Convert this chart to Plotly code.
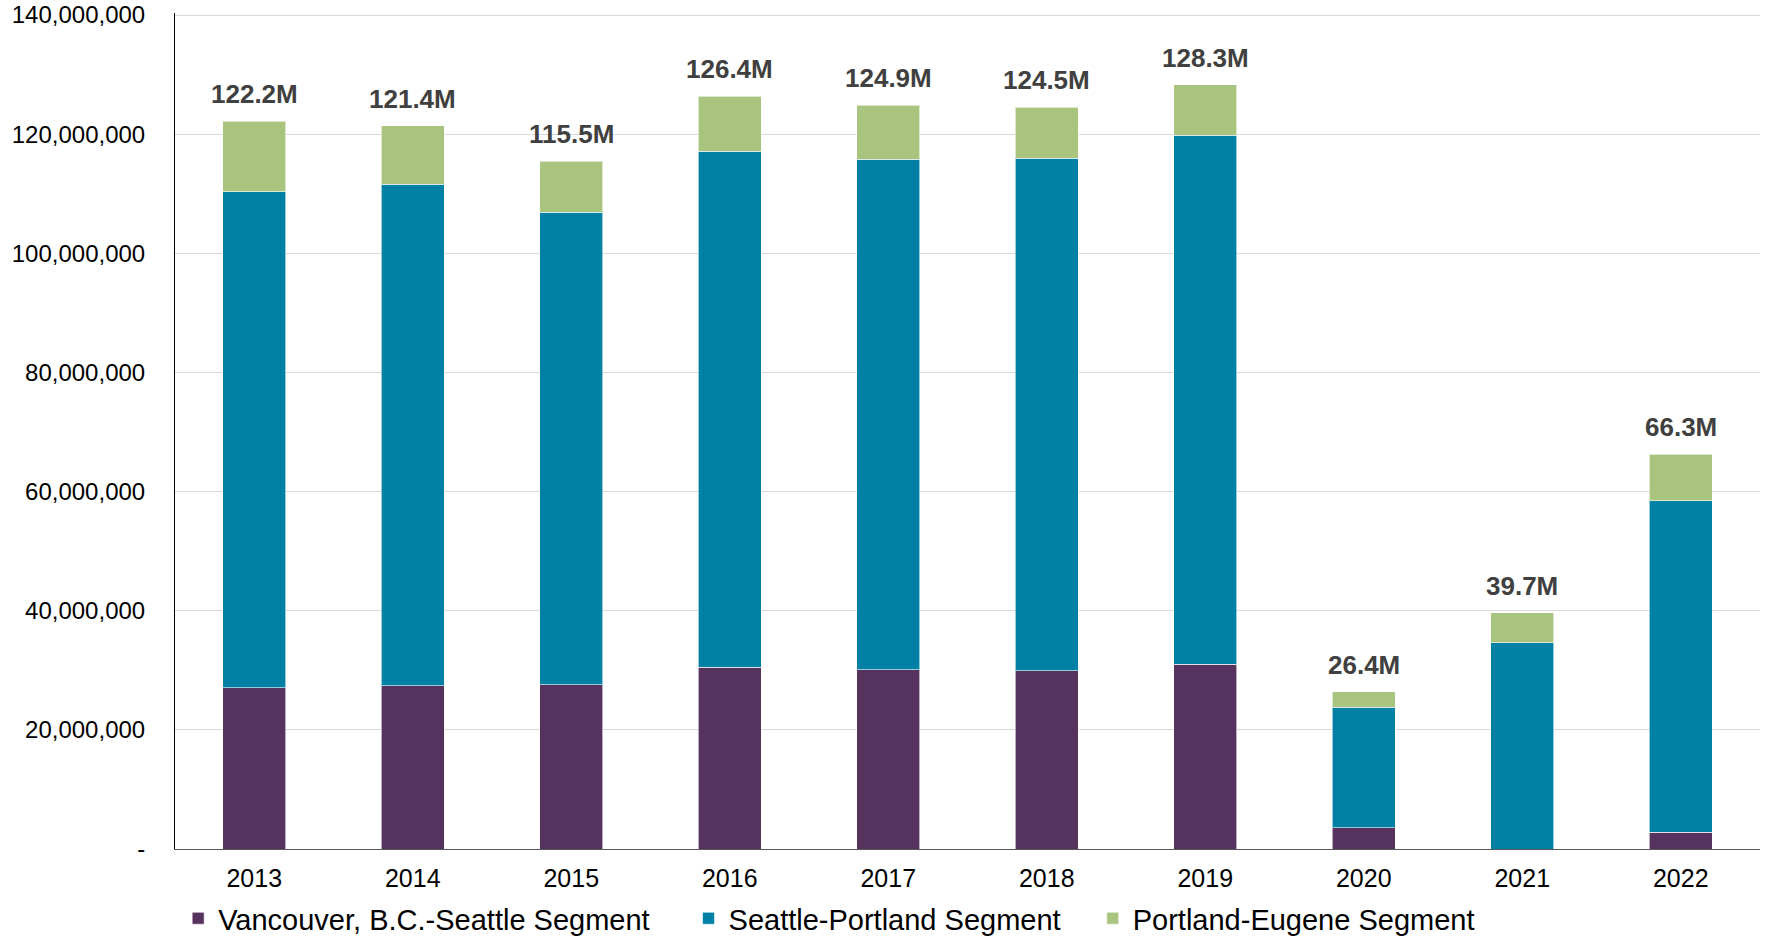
import plotly.graph_objects as go

years = ["2013", "2014", "2015", "2016", "2017", "2018", "2019", "2020", "2021", "2022"]
vancouver_seattle = [27050000, 27400000, 27600000, 30500000, 30100000, 29900000, 31000000, 3600000, 0, 2800000]
seattle_portland = [83250000, 84200000, 79300000, 86600000, 85700000, 86100000, 88800000, 20200000, 34600000, 55700000]
portland_eugene = [11900000, 9800000, 8600000, 9300000, 9100000, 8500000, 8500000, 2600000, 5100000, 7800000]
y_ticks = [0, 20000000, 40000000, 60000000, 80000000, 100000000, 120000000, 140000000]
y_tick_labels = ["-", "20,000,000", "40,000,000", "60,000,000", "80,000,000", "100,000,000", "120,000,000", "140,000,000"]

totals = [a + b + c for a, b, c in zip(vancouver_seattle, seattle_portland, portland_eugene)]
total_labels = [f"{t/1e6:.1f}M" for t in totals]

FONT = "Liberation Sans, Arial, sans-serif"
bar_line = dict(color="rgba(255,255,255,0.6)", width=1)

fig = go.Figure()
fig.add_trace(go.Bar(x=years, y=vancouver_seattle, name="Vancouver, B.C.-Seattle Segment",
                     marker=dict(color="#56325E", line=bar_line), legend="legend"))
fig.add_trace(go.Bar(x=years, y=seattle_portland, name="Seattle-Portland Segment",
                     marker=dict(color="#0080A4", line=bar_line), legend="legend2"))
fig.add_trace(go.Bar(x=years, y=portland_eugene, name="Portland-Eugene Segment",
                     marker=dict(color="#A9C47F", line=bar_line), legend="legend3"))

for i, (t, lbl) in enumerate(zip(totals, total_labels)):
    fig.add_annotation(x=i, y=t, xref="x", yref="y", text=f"<b>{lbl}</b>", showarrow=False,
                       yanchor="bottom", yshift=10,
                       font=dict(family=FONT, size=26, color="#404040"))

leg_common = dict(orientation="h", xanchor="left", y=-0.083, yanchor="middle",
                  font=dict(family=FONT, size=29, color="#000000"), bgcolor="rgba(0,0,0,0)")

fig.update_layout(
    barmode="stack",
    bargap=0.6,
    width=1767, height=937,
    margin=dict(l=175, r=7, t=13, b=88, autoexpand=False),
    plot_bgcolor="white", paper_bgcolor="white",
    font=dict(family=FONT, size=24, color="#000000"),
    legend=dict(x=0.002, **leg_common),
    legend2=dict(x=0.324, **leg_common),
    legend3=dict(x=0.579, **leg_common),
    showlegend=True,
)
fig.update_yaxes(range=[0, y_ticks[-1] * 1.0025], tickvals=y_ticks, ticktext=y_tick_labels,
                 showgrid=True, gridcolor="#D9D9D9", gridwidth=1,
                 showline=True, linecolor="#000000", linewidth=1,
                 zeroline=False, ticks="", ticklabelstandoff=24,
                 tickfont=dict(family=FONT, size=24, color="#000000"))
fig.update_xaxes(type="category", range=[-0.5, len(years) - 0.5],
                 showline=True, linecolor="#595959", linewidth=1, ticks="",
                 tickfont=dict(family=FONT, size=25, color="#000000"), ticklabelstandoff=7)

fig.write_html("out.html", config={"displayModeBar": False},
               post_script="document.body.style.margin='0';")
